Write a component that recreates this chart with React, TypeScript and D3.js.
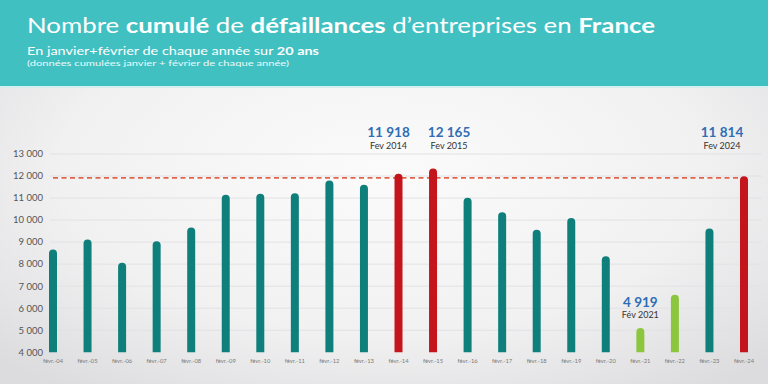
import React from "react";
import * as d3 from "d3";

const categories = ["févr.-04","févr.-05","févr.-06","févr.-07","févr.-08","févr.-09","févr.-10","févr.-11","févr.-12","févr.-13","févr.-14","févr.-15","févr.-16","févr.-17","févr.-18","févr.-19","févr.-20","févr.-21","févr.-22","févr.-23","févr.-24"];
const values = [8480, 8940, 7880, 8860, 9480, 10970, 11010, 11040, 11620, 11420, 11918, 12165, 10830, 10180, 9380, 9910, 8180, 4919, 6430, 9440, 11814];
const barKinds = ["n","n","n","n","n","n","n","n","n","n","r","r","n","n","n","n","n","g","g","n","r"];
const yTicks = [4000, 5000, 6000, 7000, 8000, 9000, 10000, 11000, 12000, 13000];
const refValue = 11918;
const annotations = [
  { cat: "févr.-14", value: "11 918", label: "Fev 2014", dx: -10, top: true },
  { cat: "févr.-15", value: "12 165", label: "Fev 2015", dx: 16, top: true },
  { cat: "févr.-24", value: "11 814", label: "Fev 2024", dx: -22, top: true },
  { cat: "févr.-21", value: "4 919", label: "Fév 2021", dx: 0, top: false },
];

const W = 768, H = 384;
const colors: Record<string, string> = { n: "#0f7f7b", r: "#c3151b", g: "#8cc63f" };
const FONT = "Lato, 'Open Sans', sans-serif";

export default function App() {
  const x = d3.scalePoint<string>().domain(categories).range([53, 744]);
  const y = d3.scaleLinear().domain([4000, 13000]).range([352.3, 154]);
  const bw = 8;
  const r = bw / 2;
  const fmt = (v: number) => d3.format(",")(v).replace(",", " ");

  return (
    <svg width={W} height={H} style={{ position: "absolute", left: 0, top: 0 }} xmlns="http://www.w3.org/2000/svg">
      <defs>
        <radialGradient id="bg" cx="0.5" cy="0.45" r="0.7">
          <stop offset="0" stopColor="#fbfbfb" />
          <stop offset="0.6" stopColor="#f1f1f2" />
          <stop offset="1" stopColor="#dcdcde" />
        </radialGradient>
      </defs>
      <rect x={0} y={0} width={W} height={H} fill="url(#bg)" />
      <rect x={0} y={0} width={W} height={86} fill="#41c0c2" />
      <rect x={0} y={86} width={W} height={2} fill="#d6eeee" />
      <text x={27} y={32.5} fill="#fff" fontFamily={FONT} fontSize={21} textLength={628} lengthAdjust="spacingAndGlyphs">
        Nombre <tspan fontWeight="bold">cumulé</tspan> de <tspan fontWeight="bold">défaillances</tspan> d’entreprises en <tspan fontWeight="bold">France</tspan>
      </text>
      <text x={27} y={55} fill="#fff" fontFamily={FONT} fontSize={10.5} textLength={292} lengthAdjust="spacingAndGlyphs">
        En janvier+février de chaque année sur <tspan fontWeight="bold">20 ans</tspan>
      </text>
      <text x={27} y={66} fill="#eafafa" fontFamily={FONT} fontSize={7} textLength={262} lengthAdjust="spacingAndGlyphs">
        (données cumulées janvier + février de chaque année)
      </text>

      {yTicks.map((t) => (
        <g key={t}>
          {t > 4000 && <line x1={50} x2={762} y1={y(t)} y2={y(t)} stroke="#e2e2e4" strokeWidth={1} />}
          <text x={43} y={y(t)} dy="0.35em" textAnchor="end" fontFamily={FONT} fontSize={9.5} fill="#555">
            {fmt(t)}
          </text>
        </g>
      ))}

      <line x1={x(categories[0])!} x2={x(categories[categories.length - 1])! - 4} y1={y(refValue)} y2={y(refValue)}
        stroke="#e0654a" strokeWidth={1.6} strokeDasharray="5 3.5" />

      {categories.map((c, i) => {
        const cx = x(c)!;
        const top = y(values[i]);
        const base = y(4000);
        const d = `M${cx - r},${base} L${cx - r},${top} A${r},${r} 0 0 1 ${cx + r},${top} L${cx + r},${base} Z`;
        return <path key={c} d={d} fill={colors[barKinds[i]]} />;
      })}

      {categories.map((c) => (
        <text key={c} x={x(c)!} y={361} dy="0.35em" textAnchor="middle" fontFamily={FONT} fontSize={5.8} fill="#7a7a7a">
          {c}
        </text>
      ))}

      {annotations.map((a) => {
        const cx = x(a.cat)! + a.dx;
        const vy = a.top ? 132.7 : 302.3;
        return (
          <g key={a.cat}>
            <text x={cx} y={vy} dy="0.35em" textAnchor="middle" fontFamily={FONT} fontWeight="bold" fontSize={13.5} fill="#2f6db4">
              {a.value}
            </text>
            <text x={cx} y={vy + 13} dy="0.35em" textAnchor="middle" fontFamily={FONT} fontSize={9} fill="#333">
              {a.label}
            </text>
          </g>
        );
      })}
    </svg>
  );
}
